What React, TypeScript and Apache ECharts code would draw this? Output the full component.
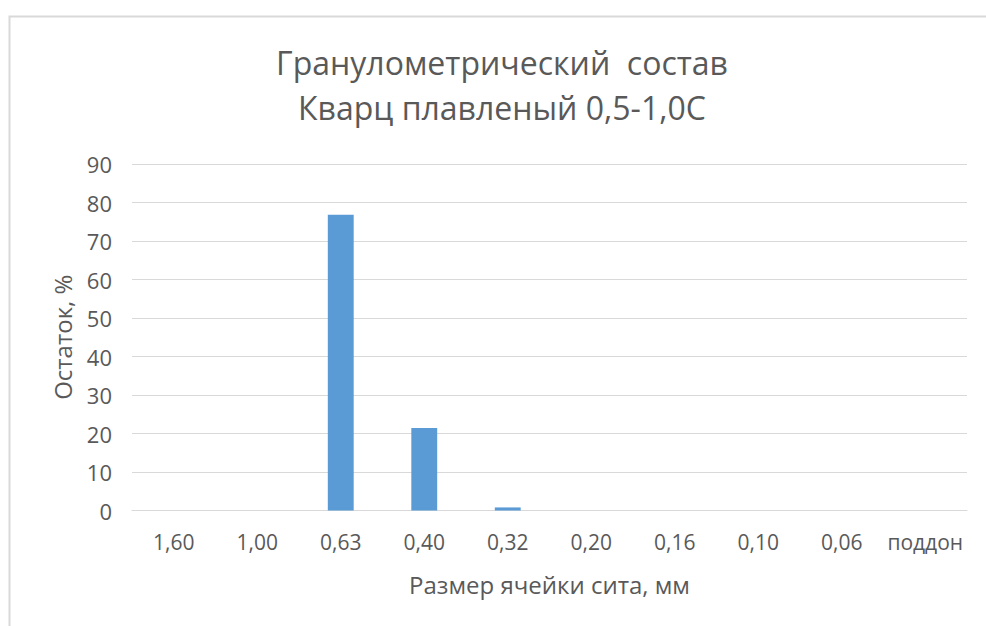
import React, { useEffect, useRef } from "react";
import * as echarts from "echarts";

const categories = ["1,60", "1,00", "0,63", "0,40", "0,32", "0,20", "0,16", "0,10", "0,06", "поддон"];
const residue = [0, 0, 76.8, 21.4, 0.8, 0, 0, 0, 0, 0];
const titleLines = ["Гранулометрический  состав", "Кварц плавленый 0,5-1,0С"];
const xName = "Размер ячейки сита, мм";
const yName = "Остаток, %";

export default function App() {
  const ref = useRef<HTMLDivElement>(null);
  useEffect(() => {
    if (!ref.current) return;
    const chart = echarts.init(ref.current, null, { renderer: "svg" });
    chart.setOption({
      animation: false,
      backgroundColor: "#ffffff",
      graphic: [
        {
          type: "rect",
          shape: { x: 9.5, y: 16.5, width: 1100, height: 800 },
          style: { fill: "none", stroke: "#d9d9d9", lineWidth: 2 },
          silent: true,
        },
      ],
      title: {
        text: titleLines.join("\n"),
        left: 497,
        textAlign: "center",
        top: 35,
        textStyle: {
          fontFamily: "Open Sans",
          fontSize: 32,
          fontWeight: "normal",
          color: "#595959",
          lineHeight: 45,
        },
      },
      grid: { left: 132, right: 19, top: 164, bottom: 115.5, containLabel: false },
      xAxis: {
        type: "category",
        data: categories,
        name: xName,
        nameLocation: "middle",
        nameGap: 62,
        nameTextStyle: { fontFamily: "Open Sans", fontSize: 24, color: "#595959" },
        axisLine: { show: true, lineStyle: { color: "#d9d9d9", width: 1 } },
        axisTick: { show: false },
        axisLabel: {
          interval: 0,
          margin: 21,
          fontFamily: "Open Sans",
          fontSize: 21,
          color: "#595959",
        },
      },
      yAxis: {
        type: "value",
        min: 0,
        max: 90,
        interval: 10,
        name: yName,
        nameLocation: "middle",
        nameGap: 58,
        nameRotate: 90,
        nameTextStyle: { fontFamily: "Open Sans", fontSize: 24, color: "#595959" },
        axisLine: { show: false },
        axisTick: { show: false },
        axisLabel: { margin: 20, fontFamily: "Open Sans", fontSize: 22, color: "#595959" },
        splitLine: { lineStyle: { color: "#d9d9d9", width: 1 } },
      },
      series: [
        {
          type: "bar",
          data: residue,
          barWidth: "31%",
          itemStyle: { color: "#5B9BD5" },
        },
      ],
    });
    return () => chart.dispose();
  }, []);
  return (
    <div
      ref={ref}
      style={{ position: "absolute", left: 0, top: 0, width: 986, height: 626 }}
    />
  );
}
